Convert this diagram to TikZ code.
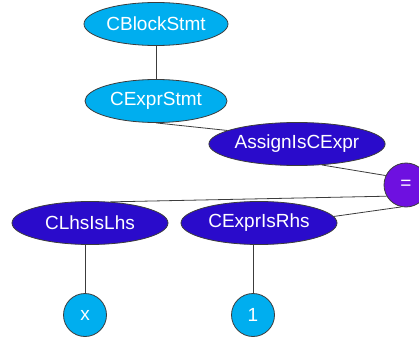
\documentclass[tikz,border=0pt]{standalone}
\usepackage{fontspec}
\setmainfont{Liberation Sans}
\usetikzlibrary{shapes.geometric}
\definecolor{lightnode}{RGB}{0,174,239}
\definecolor{darknode}{RGB}{42,11,203}
\definecolor{purplenode}{RGB}{110,16,224}
\definecolor{edgegray}{RGB}{60,60,60}
\tikzset{
  base/.style={draw=edgegray, line width=0.8pt, text=white, inner sep=0pt, font=\fontsize{19}{19}\selectfont},
  lightell/.style={base, ellipse, fill=lightnode, minimum height=43pt},
  darkell/.style={base, ellipse, fill=darknode, minimum width=156pt, minimum height=43pt},
  lightcirc/.style={base, circle, fill=lightnode, minimum size=43pt},
  purplecirc/.style={base, circle, fill=purplenode, minimum size=44pt},
  edge/.style={draw=edgegray, line width=0.8pt}
}
\begin{document}
\begin{tikzpicture}[x=1pt, y=-1pt]
\clip (0,0) rectangle (419,339);
\node[lightell, minimum width=144pt] (block) at (156,24) {CBlockStmt};
\node[lightell, minimum width=142pt] (exprstmt) at (156,101) {CExprStmt};
\node[darkell] (assign) at (297,144) {AssignIsCExpr};
\node[purplecirc] (eq) at (406,185) {=};
\node[darkell] (lhs) at (90,223) {CLhsIsLhs};
\node[darkell] (rhs) at (259,223) {CExprIsRhs};
\node[lightcirc] (x) at (85,315) {x};
\node[lightcirc] (one) at (253,315) {1};
\draw[edge] (block) -- (exprstmt);
\draw[edge] (exprstmt.south) -- (assign.169);
\draw[edge] (assign.-40) -- (eq.155);
\draw[edge] (eq.210) -- (lhs.46);
\draw[edge] (eq.258) -- (rhs.5);
\draw[edge] (lhs.south -| x.north) -- (x.north);
\draw[edge] (rhs.south -| one.north) -- (one.north);
\end{tikzpicture}
\end{document}
